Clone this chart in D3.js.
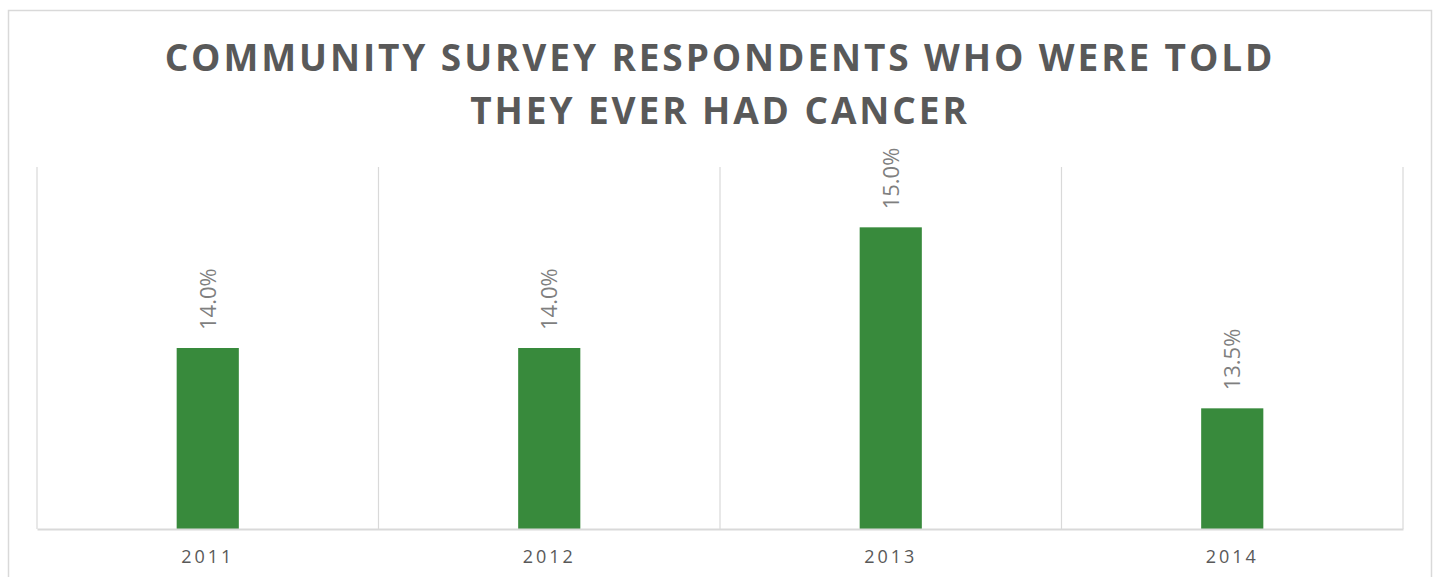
<!DOCTYPE html>
<html><head><meta charset="utf-8">
<script src="https://cdn.jsdelivr.net/npm/d3@7"></script>
<style>html,body{margin:0;padding:0;background:#fff;}svg{display:block;}</style>
</head><body>
<svg id="chart" width="1439" height="577"></svg>
<script>
const titleLines = ["COMMUNITY SURVEY RESPONDENTS WHO WERE TOLD", "THEY EVER HAD CANCER"];
const categories = ["2011", "2012", "2013", "2014"];
const values = [14.0, 14.0, 15.0, 13.5];
const yDomain = [12.5, 15.5];

const svg = d3.select("#chart");
const W = 1439, H = 577;
const m = {left: 37, right: 36, top: 167, bottom: 48};
const pw = W - m.left - m.right, ph = H - m.top - m.bottom;

// outer border
svg.append("rect").attr("x", 8.5).attr("y", 10.5).attr("width", 1423).attr("height", 600)
  .attr("fill", "#fff").attr("stroke", "#d9d9d9").attr("stroke-width", 1.5);

const t = svg.append("text").attr("text-anchor", "middle")
  .attr("font-family", "'Open Sans', sans-serif").attr("font-weight", 700)
  .attr("font-size", 37).attr("letter-spacing", 2.9).attr("fill", "#595959");
titleLines.forEach((l, i) => t.append("tspan").attr("x", 720).attr("y", 71 + i * 53).text(l));

const g = svg.append("g").attr("transform", `translate(${m.left},${m.top})`);
const x = d3.scaleBand().domain(categories).range([0, pw]).paddingInner(0).paddingOuter(0);
const y = d3.scaleLinear().domain(yDomain).range([ph, 0]);

// vertical gridlines at category boundaries
const bounds = categories.map(c => x(c)).concat([pw]);
g.selectAll(".grid").data(bounds).join("line")
  .attr("x1", d => d).attr("x2", d => d).attr("y1", 0).attr("y2", ph)
  .attr("stroke", "#d9d9d9").attr("stroke-width", 1.2);

const bw = x.bandwidth() * 0.182;
g.selectAll(".bar").data(values).join("rect")
  .attr("x", (d, i) => x(categories[i]) + x.bandwidth() / 2 - bw / 2)
  .attr("width", bw)
  .attr("y", d => y(d)).attr("height", d => ph - y(d))
  .attr("fill", "#388a3c");

g.selectAll(".lbl").data(values).join("text")
  .attr("transform", (d, i) => `translate(${x(categories[i]) + x.bandwidth() / 2 + 8},${y(d) - 18}) rotate(-90)`)
  .attr("text-anchor", "start")
  .attr("font-family", "'Open Sans', sans-serif").attr("font-size", 22)
  .attr("fill", "#7f7f7f")
  .text(d => d.toFixed(1) + "%");

// x axis
const xa = g.append("g").attr("transform", `translate(0,${ph})`).call(d3.axisBottom(x).tickSize(0).tickPadding(0));
xa.select(".domain").attr("stroke", "#d9d9d9").attr("stroke-width", 2);
xa.selectAll("text").attr("dy", 0).attr("y", 34)
  .attr("font-family", "'Open Sans', sans-serif").attr("font-size", 18)
  .attr("letter-spacing", 3).attr("fill", "#595959");
</script>
</body></html>
